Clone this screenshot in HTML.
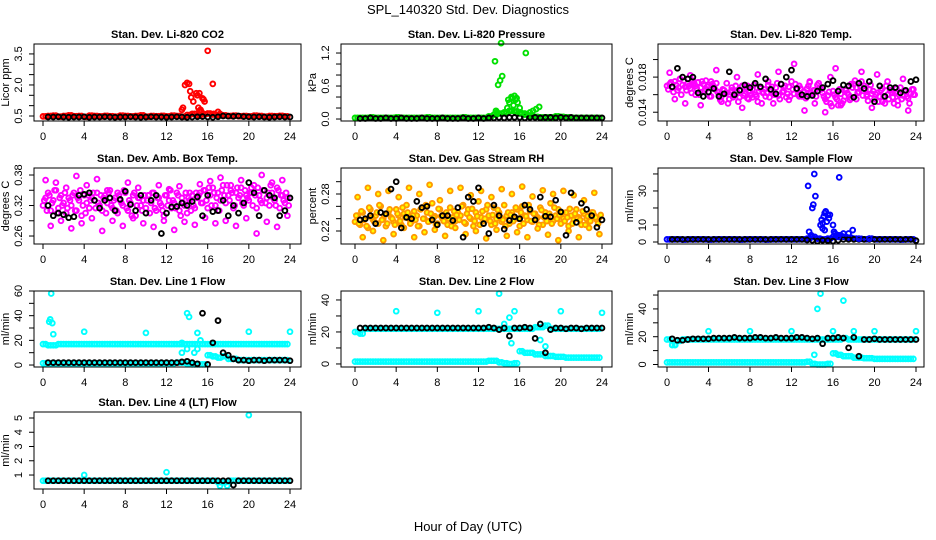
<!DOCTYPE html>
<html><head><meta charset="utf-8"><style>
html,body{margin:0;padding:0;background:#fff;}
svg{display:block;font-family:"Liberation Sans",sans-serif;}
</style></head><body>
<svg id="chart" width="936" height="540" viewBox="0 0 936 540">
<text x="468" y="14" font-size="13" text-anchor="middle">SPL_140320  Std. Dev. Diagnostics</text>
<text x="468" y="531" font-size="13" text-anchor="middle">Hour of Day (UTC)</text>
</svg>
<script>
// ---- data ----
const xTicks = [0,4,8,12,16,20,24];
const co2Red = [0.48,0.5,0.52,0.47,0.5,0.53,0.49,0.5,0.46,0.52,0.5,0.48,0.51,0.49,0.47,0.52,0.5,0.48,0.5,0.53,0.47,0.5,0.49,0.51,0.48,0.52,0.5,0.47,0.55,0.6,0.52,0.58,0.62,0.57,0.55,0.53,0.5,0.52,0.49,0.5,0.48,0.52,0.5,0.47,0.5,0.49,0.51,0.48];
const co2SpikeT = [13.5,13.6,13.8,14,14.2,14.3,14.4,14.6,14.9,15,15.1,15.2,15.3,15.5,15.6,15.7,16,16.5,16.6,17,17.2,15.2,15.4];
const co2SpikeV = [0.8,0.9,2.0,2.1,2.05,1.7,1.4,1.2,1.6,1.5,0.9,1.6,0.8,1.35,1.3,1.2,3.65,2.05,0.6,0.7,0.6,0.75,0.7];
const co2Blk = [0.45,0.45,0.46,0.45,0.44,0.45,0.45,0.46,0.44,0.45,0.45,0.46,0.45,0.44,0.45,0.45,0.46,0.45,0.44,0.45,0.46,0.45,0.45,0.44,0.45,0.46,0.45,0.44,0.45,0.46,0.47,0.45,0.44,0.46,0.5,0.49,0.48,0.5,0.47,0.46,0.45,0.46,0.45,0.44,0.45,0.46,0.45,0.45];
const presGrn = [0.02,0.02,0.02,0.03,0.02,0.02,0.02,0.02,0.03,0.02,0.02,0.02,0.02,0.02,0.03,0.02,0.02,0.02,0.02,0.02,0.02,0.03,0.02,0.02,0.02,0.02,0.05,0.08,0.1,0.12,0.15,0.14,0.1,0.08,0.06,0.04,0.03,0.03,0.03,0.05,0.04,0.03,0.02,0.02,0.02,0.02,0.02,0.02];
const presSpikeT = [13.6,13.8,13.9,14.1,14.2,14.3,13.7,13.8,14.8,14.9,15,15.1,15.2,15.3,15.5,15.6,15.7,16,16.1,16.5,16.6,17,17.3,17.6,17.9,15.4,15.8];
const presSpikeV = [1.05,0.12,0.62,0.7,1.38,0.78,0.15,0.1,0.2,0.35,0.3,0.15,0.4,0.38,0.42,0.35,0.38,0.2,0.12,0.1,1.2,0.12,0.15,0.18,0.22,0.25,0.3];
const presBlk = [0.01,0.01,0.02,0.01,0.01,0.02,0.01,0.01,0.02,0.01,0.01,0.01,0.02,0.01,0.01,0.01,0.02,0.01,0.01,0.01,0.02,0.01,0.01,0.02,0.01,0.02,0.02,0.03,0.02,0.03,0.03,0.03,0.02,0.03,0.03,0.02,0.03,0.03,0.02,0.03,0.02,0.03,0.02,0.02,0.02,0.02,0.02,0.02];
const tempMag = [170,172,168,175,165,178,171,169,173,167,176,170,174,168,172,166,171,175,169,173,160,158,165,162,155,168,159,163,157,170,161,156,164,166,160,152,167,163,158,171,165,162,168,159,172,164,157,169,175,161,166,170,158,163,167,174,160,165,171,168,162,155,159,150,164,157,148,161,153,166,160,156,172,168,163,175,170,158,166,161,155,162,158,167,150,160,165,157,162,153,168,159,164,156,161,166];
const tempMag3 = [166,174,163,171,168,160,176,165,170,162,173,167,160,175,164,169,158,172,166,163,154,166,161,150,163,157,170,152,165,159,168,155,160,171,158,164,150,166,162,157,169,160,173,155,163,170,161,158,166,172,160,167,163,156,170,162,165,158,173,166,158,152,163,147,160,155,166,150,158,162,154,168,176,162,170,159,166,153,171,164,160,152,165,158,170,155,163,150,167,160,155,164,158,150,166,160];
const tempMag2 = [185,155,178,150,182,160,148,176,158,188,152,173,165,180,145,170,157,183,162,175,150,186,168,154,195,158,142,175,150,168,140,180,190,148,165,172,155,186,160,145,183,152,175,162,148,178,142,160];
const tempBlk = [169,190,180,178,180,162,158,163,167,158,161,186,160,165,171,168,173,169,178,166,161,172,180,188,167,160,158,159,164,168,172,176,164,171,170,157,173,167,175,152,170,158,168,168,162,165,175,177];
const ambMag = [320,335,345,310,330,350,315,340,325,305,335,320,345,310,330,300,340,325,315,335,330,345,320,310,340,325,350,315,335,305,330,320,345,310,325,340,300,335,320,330,315,340,325,345,310,335,320,300,340,330,315,325,345,310,335,320,305,330,340,315,335,345,325,350,315,340,355,320,345,330,360,325,340,350,315,345,335,355,320,340,330,345,360,315,340,325,350,335,320,345,330,355,315,340,325,335];
const ambMag3 = [330,310,340,325,350,305,335,320,345,315,330,340,310,335,350,320,305,340,330,345,315,325,340,335,305,345,320,330,310,340,325,350,315,330,300,345,320,335,310,340,330,305,345,315,335,325,310,340,320,350,330,315,340,300,325,345,335,310,320,345,340,325,350,330,355,320,345,335,310,350,340,360,330,345,320,355,340,325,350,335,345,320,340,355,330,350,325,345,360,335,320,350,340,330,345,320];
const ambMag2 = [370,280,365,290,355,275,378,285,360,295,372,270,350,290,345,280,365,295,355,285,340,278,360,290,352,272,358,288,345,282,362,296,368,285,375,290,360,280,370,295,355,265,380,288,365,278,370,300];
const ambBlk = [320,300,305,302,296,298,340,342,345,330,315,330,335,310,332,348,322,310,340,305,330,340,265,305,317,318,325,320,328,337,300,340,308,310,330,300,320,305,325,365,345,300,350,340,335,300,310,335];
const rhOr = [235,245,230,250,240,225,255,238,245,232,260,240,228,250,242,235,255,245,230,248,262,240,235,252,245,228,258,240,250,236,265,244,232,255,240,248,230,258,242,236,250,245,262,232,255,240,228,250,268,242,236,255,245,230,258,240,250,235,262,245,232,250,240,255,228,260,245,238,252,235,248,242,258,230,250,240,265,236,245,255,232,240,250,228,245,238,255,242,230,248,240,235,250,245,238,242];
const rhOr3 = [245,232,252,238,228,258,242,235,250,262,238,246,232,255,240,230,248,236,258,242,250,232,245,238,228,255,240,262,235,248,242,230,256,244,236,250,240,228,252,246,238,260,234,248,242,256,236,244,230,252,240,262,236,246,232,254,242,238,228,250,246,236,258,240,250,232,244,262,236,248,240,230,254,242,236,248,232,258,240,246,250,236,242,256,232,248,240,238,252,230,244,236,250,242,232,246];
const rhOr2 = [275,210,290,220,280,205,285,215,275,225,290,210,280,218,295,222,270,212,285,225,290,215,278,220,285,208,275,222,288,212,280,218,292,210,276,224,286,214,280,205,285,220,278,210,270,225,282,215];
const rhBlk = [238,240,245,232,250,248,288,300,225,242,240,268,258,260,238,230,245,245,237,258,210,275,268,290,232,216,262,245,223,237,243,240,262,255,238,275,244,243,270,251,213,282,234,265,255,245,226,238];
const sfBlue = [1.5,1.5,1.6,1.4,1.5,1.5,1.6,1.5,1.4,1.5,1.5,1.6,1.5,1.5,1.4,1.5,1.6,1.5,1.5,1.4,1.5,1.5,1.6,1.5,1.5,1.5,1.6,2,3,2,1.5,2,3,4,3,2.5,2,1.8,1.6,2,1.5,1.5,1.6,1.5,1.5,1.4,1.5,1.5];
const sfSpikeT = [13.6,13.7,13.9,14,14.1,14.2,14.3,14.8,14.9,15,15.1,15.2,15.3,15.4,15.5,15.6,15.7,16,16.1,16.2,16.3,16.5,16.6,17,17.5,17.9,18.5,19.5,15.0,15.2];
const sfSpikeV = [33,6,4,20,22,40,27,10,13,8,15,7,18,12,16,14,16,10,6,5,4,3,38,5,5,7,2,2,11,17];
const sfBlk = [1.5,1.5,1.5,1.5,1.5,1.5,1.5,1.5,1.5,1.5,1.5,1.5,1.5,1.5,1.5,1.5,1.5,1.5,1.5,1.5,1.5,1.5,1.5,1.5,1.5,1.5,1.2,1,0.5,1,0.8,0.5,1,1.5,1.5,1.5,1.5,1.5,1.5,1.5,1.5,1.5,1.5,1.5,1.5,1.5,1.5,0.8];
const l1Hi = [17,16,16,17,17,17,17,17,17,17,17,17,17,17,17,17,17,17,17,17,17,17,17,17,17,17,17,17,17,17,17,17,17,17,17,17,17,17,17,17,17,17,17,17,17,17,17,17];
const l1Lo = [1.5,1.5,1.5,1.5,1.5,1.5,1.5,1.5,1.5,1.5,1.5,1.5,1.5,1.5,1.5,1.5,1.5,1.5,1.5,1.5,1.5,1.5,1.5,1.5,1.5,1.5,2,2,1,0.5,0.5,0.5,8,7,6,7,5,5,4,4,4,4,4,4,4,4,4,4];
const l1OutT = [0.6,0.7,0.8,0.9,1,4,10,15,20,24,14,14.2,13.5,14,15,15.3,14.7,13.5];
const l1OutV = [35,37,58,34,25,27,26,26,27,27,42,39,10,13,13,20,10,18];
const l1Blk = [2,2,2,2,2,2,2,2,2,2,2,2,2,2,2,2,2,2,2,2,2,2,2,2,2,2,2.5,3,2,1,42,0.5,18,36,10,8,5,4,4,3.5,4,4,3.5,4,4,4,4,3.5];
const l2Hi = [20,19,22,22,22,22,22,22,22,22,22,22,22,22,22,22,22,22,22,22,22,22,22,22,22,22,22,22,22,22,22,22,22,22,22,23,23,24,22,22,22,22,22,22,22,22,22,22];
const l2Lo = [1.5,1.5,1.5,1.5,1.5,1.5,1.5,1.5,1.5,1.5,1.5,1.5,1.5,1.5,1.5,1.5,1.5,1.5,1.5,1.5,1.5,1.5,1.5,1.5,1.5,1.5,2,2,1,0.5,0,0.5,8,7,7,6,6,5,5,4.5,4.5,4,4,4,4,4,4,4];
const l2OutT = [4,8,12,14,15,15.5,20,24,15.2,14.5,18,18.5];
const l2OutV = [33,32,33,44,29,33,33,32,13,25,15,11];
const l2Blk = [22.5,22.5,22.5,22.5,22.5,22.5,22.5,22.5,22.5,22.5,22.5,22.5,22.5,22.5,22.5,22.5,22.5,22.5,22.5,22.5,22.5,22.5,22.5,22.5,22.5,23,22.5,21.5,22.5,17.5,22.5,22.5,23,22.5,16,25,7,21.5,22.5,22.5,22,22.5,22.5,22,22.5,22.5,22.5,22.5];
const l3Hi = [18,14,17,18,18,18,18,18,18,18,18,18,18,18,18,18,18,18,18,18,18,18,18,18,18,18,18,18,18,18,18,18,18,18,19,18,18,18,18,18,18,18,18,18,18,18,18,18];
const l3Lo = [1.5,1.5,1.5,1.5,1.5,1.5,1.5,1.5,1.5,1.5,1.5,1.5,1.5,1.5,1.5,1.5,1.5,1.5,1.5,1.5,1.5,1.5,1.5,1.5,1.5,1.5,1.5,2,0.5,0,0,0.5,8,7,6,6,5,5,4.5,4.5,4,4,4,4,4,4,4,4];
const l3OutT = [4,8,12,14.5,14.8,16,17,18,20,24,0.5,0.8,14.2];
const l3OutV = [24,24,24,40,51,24,46,24,24,24,14,14,7];
const l3Blk = [18.5,17.5,17.5,18,18.5,18.5,18.5,18.5,19,19,19,19,19.5,19,19,19,19.5,19.5,19,19,19.5,19,19,19,19.5,19.5,19,18.5,19,15,19,19,19.5,19,12,19.5,6,18,18,18.5,18,18,18,18,18,18,18,18];
const l4Cy = [0.6,0.6,0.6,0.6,0.6,0.6,0.6,0.6,0.6,0.6,0.6,0.6,0.6,0.6,0.6,0.6,0.6,0.6,0.6,0.6,0.6,0.6,0.6,0.6,0.6,0.6,0.6,0.6,0.6,0.6,0.6,0.6,0.6,0.6,0.5,0.5,0.6,0.6,0.6,0.6,0.6,0.6,0.6,0.6,0.6,0.6,0.6,0.6];
const l4OutT = [4,12,20,17.2,17.9];
const l4OutV = [1.0,1.2,5.2,0.25,0.25];
const l4Blk = [0.6,0.6,0.6,0.6,0.6,0.6,0.6,0.6,0.6,0.6,0.6,0.6,0.6,0.6,0.6,0.6,0.6,0.6,0.6,0.6,0.6,0.6,0.6,0.6,0.6,0.6,0.6,0.6,0.6,0.6,0.6,0.6,0.6,0.6,0.6,0.6,0.3,0.6,0.6,0.6,0.6,0.6,0.6,0.6,0.6,0.6,0.6,0.6];

// time grids (categories)
const t48 = Array.from({length:48},(_,i)=>i*0.5);
const t48b = Array.from({length:48},(_,i)=>i*0.5+0.5);
const t48c = Array.from({length:48},(_,i)=>i*0.5+0.25);
const t96 = Array.from({length:96},(_,i)=>i*0.25);
const t96b = Array.from({length:96},(_,i)=>i*0.25+0.125);
const sc = k => a => a.map(v=>v*k);

// ---- layout ----
const colX = [{l:34,r:301,x0:43,x24:290},{l:341,r:612,x0:355,x24:602},{l:658,r:924,x0:667,x24:916}];
const rowY = [{t:44,b:121},{t:168,b:244},{t:291,b:367},{t:412,b:489}];
const NS='http://www.w3.org/2000/svg';
const svg=document.getElementById('chart');
function mk(tag,attrs,parent){const e=document.createElementNS(NS,tag);for(const k in attrs)e.setAttribute(k,attrs[k]);(parent||svg).appendChild(e);return e;}

const panels = [
 {id:'co2',title:'Stan. Dev. Li-820 CO2',ylab:'Licor ppm',c:0,r:0,dom:[0.258,3.98],ticks:[0.5,1,1.5,2,2.5,3,3.5],labels:{0.5:'0.5',2:'2.0',3.5:'3.5'},
  series:[[t48,co2Red,'#ff0000'],[t48c,co2Red,'#ff0000'],[co2SpikeT,co2SpikeV,'#ff0000'],[t48b,co2Blk,'#000']]},
 {id:'pressure',title:'Stan. Dev. Li-820 Pressure',ylab:'kPa',c:1,r:0,dom:[-0.036,1.364],ticks:[0,0.2,0.4,0.6,0.8,1,1.2],labels:{0:'0.0',0.6:'0.6',1.2:'1.2'},
  series:[[t48,presGrn,'#00e000'],[t48c,presGrn,'#00e000'],[t48b,presBlk,'#000'],[presSpikeT,presSpikeV,'#00e000']]},
 {id:'temp',title:'Stan. Dev. Li-820 Temp.',ylab:'degrees C',c:2,r:0,dom:[0.013,0.02177],ticks:[0.014,0.016,0.018,0.020],labels:{0.014:'0.014',0.018:'0.018'},
  series:[[t96,sc(1e-4)(tempMag),'#ff00ff'],[t96b,sc(1e-4)(tempMag3),'#ff00ff'],[t48c,sc(1e-4)(tempMag2),'#ff00ff'],[t48b,sc(1e-4)(tempBlk),'#000']]},
 {id:'ambbox',title:'Stan. Dev. Amb. Box Temp.',ylab:'degrees C',c:0,r:1,dom:[0.2443,0.3938],ticks:[0.26,0.29,0.32,0.35,0.38],labels:{0.26:'0.26',0.32:'0.32',0.38:'0.38'},
  series:[[t96,sc(1e-3)(ambMag),'#ff00ff'],[t96b,sc(1e-3)(ambMag3),'#ff00ff'],[t48c,sc(1e-3)(ambMag2),'#ff00ff'],[t48b,sc(1e-3)(ambBlk),'#000']]},
 {id:'rh',title:'Stan. Dev. Gas Stream RH',ylab:'percent',c:1,r:1,dom:[0.1989,0.3222],ticks:[0.22,0.24,0.26,0.28,0.30],labels:{0.22:'0.22',0.28:'0.28'},
  series:[[t96,sc(1e-3)(rhOr),'#ff9900','#ffff00'],[t96b,sc(1e-3)(rhOr3),'#ff9900','#ffff00'],[t48c,sc(1e-3)(rhOr2),'#ff9900','#ffff00'],[t48b,sc(1e-3)(rhBlk),'#000']]},
 {id:'sampleflow',title:'Stan. Dev. Sample Flow',ylab:'ml/min',c:2,r:1,dom:[-1.18,43.5],ticks:[0,10,20,30,40],labels:{0:'0',10:'10',30:'30'},
  series:[[t48,sfBlue,'#0000ff'],[t48c,sfBlue,'#0000ff'],[t48b,sfBlk,'#000'],[sfSpikeT,sfSpikeV,'#0000ff']]},
 {id:'line1',title:'Stan. Dev. Line 1 Flow',ylab:'ml/min',c:0,r:2,dom:[-1.6,60],ticks:[0,10,20,30,40,50,60],labels:{0:'0',20:'20',40:'40',60:'60'},
  series:[[t48,l1Hi,'#00ffff'],[t48c,l1Hi,'#00ffff'],[t48,l1Lo,'#00ffff'],[t48c,l1Lo,'#00ffff'],[l1OutT,l1OutV,'#00ffff'],[t48b,l1Blk,'#000']]},
 {id:'line2',title:'Stan. Dev. Line 2 Flow',ylab:'ml/min',c:1,r:2,dom:[-1.9,45.6],ticks:[0,10,20,30,40],labels:{0:'0',20:'20',40:'40'},
  series:[[t48,l2Hi,'#00ffff'],[t48c,l2Hi,'#00ffff'],[t48,l2Lo,'#00ffff'],[t48c,l2Lo,'#00ffff'],[l2OutT,l2OutV,'#00ffff'],[t48b,l2Blk,'#000']]},
 {id:'line3',title:'Stan. Dev. Line 3 Flow',ylab:'ml/min',c:2,r:2,dom:[-1.8,52.9],ticks:[0,10,20,30,40,50],labels:{0:'0',20:'20',40:'40'},
  series:[[t48,l3Hi,'#00ffff'],[t48c,l3Hi,'#00ffff'],[t48,l3Lo,'#00ffff'],[t48c,l3Lo,'#00ffff'],[l3OutT,l3OutV,'#00ffff'],[t48b,l3Blk,'#000']]},
 {id:'line4',title:'Stan. Dev. Line 4 (LT) Flow',ylab:'ml/min',c:0,r:3,dom:[0.02,5.42],ticks:[1,2,3,4,5],labels:{1:'1',2:'2',3:'3',4:'4',5:'5'},
  series:[[t48,l4Cy,'#00ffff'],[t48c,l4Cy,'#00ffff'],[l4OutT,l4OutV,'#00ffff'],[t48b,l4Blk,'#000']]}
];

panels.forEach(p=>{
  const C=colX[p.c], R=rowY[p.r];
  const xs=v=>C.x0+(C.x24-C.x0)*v/24;
  const ys=v=>R.b-(v-p.dom[0])/(p.dom[1]-p.dom[0])*(R.b-R.t);
  const g=mk('g',{});
  
  
  const ti=mk('text',{x:(C.l+C.r)/2,y:R.t-6,'font-size':11,'font-weight':'bold','text-anchor':'middle'},g);
  ti.textContent=p.title;
  
  
  const mg=mk('g',{},g);
  
  
  p.series.forEach(s=>{
    const [tt,vv,col,fill]=s;
    vv.forEach((v,i)=>{
      const cy=ys(v); if(cy<R.t-1||cy>R.b+1) return;
      const c=mk('circle',{cx:xs(tt[i]).toFixed(1),cy:cy.toFixed(1),r:2.4,fill:fill||'none',stroke:col,'stroke-width':1.9},mg);
      
      
    });
  });
  const bx=mk('rect',{x:C.l,y:R.t,width:C.r-C.l,height:R.b-R.t,fill:'none',stroke:'#000','stroke-width':1},g);
  
  
  const xa=mk('g',{},g);
  
  
  mk('line',{x1:xs(0),x2:xs(24),y1:R.b,y2:R.b,stroke:'#000'},xa);
  xTicks.forEach(t=>{
    mk('line',{x1:xs(t),x2:xs(t),y1:R.b,y2:R.b+5,stroke:'#000'},xa);
    const tx=mk('text',{x:xs(t),y:R.b+19,'font-size':11,'text-anchor':'middle'},xa);
    tx.textContent=t;
  });
  const ya=mk('g',{},g);
  
  
  const tk=p.ticks;
  mk('line',{x1:C.l,x2:C.l,y1:ys(tk[0]),y2:ys(tk[tk.length-1]),stroke:'#000'},ya);
  tk.forEach(t=>{
    mk('line',{x1:C.l-5,x2:C.l,y1:ys(t),y2:ys(t),stroke:'#000'},ya);
    if(p.labels[t]!==undefined){
      const lx=C.l-12, ly=ys(t);
      const tx=mk('text',{x:lx,y:ly,'font-size':11,'text-anchor':'middle',transform:`rotate(-90 ${lx} ${ly})`},ya);
      tx.textContent=p.labels[t];
    }
  });
  const yx=C.l-25, yy=(R.t+R.b)/2;
  const yl=mk('text',{x:yx,y:yy,'font-size':11,'text-anchor':'middle',transform:`rotate(-90 ${yx} ${yy})`},g);
  yl.textContent=p.ylab;
  
  
});
</script>
</body></html>
